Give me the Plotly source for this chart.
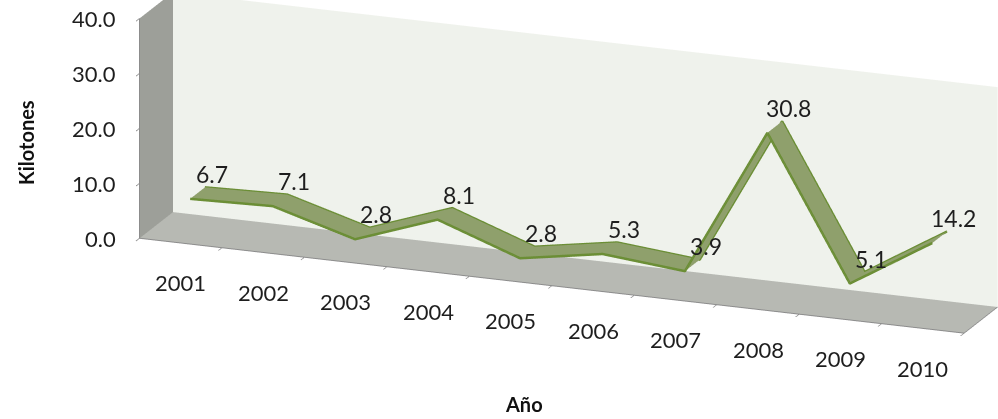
import plotly.graph_objects as go

# Annual values (kilotonnes) per year
years = ["2001", "2002", "2003", "2004", "2005", "2006", "2007", "2008", "2009", "2010"]
kilotones = [6.7, 7.1, 2.8, 8.1, 2.8, 5.3, 3.9, 30.8, 5.1, 14.2]
value_ticks = [0, 10, 20, 30, 40]

FONT = "Lato"
TEXT = "#1e1e1e"
LINE_GREEN = "#6b8e35"
RIBBON_FACE = "#8fa06c"
EDGE_GREY = "#8c8c8c"

# categories sit in the middle of unit-wide slots along x
n = len(years)
xpos = [i + 0.5 for i in range(n)]
boundaries = list(range(n + 1))
ribbon_depth = [0.28, 0.72]

fig = go.Figure()

# ribbon top face
fig.add_trace(go.Surface(
    x=xpos,
    y=ribbon_depth,
    z=[kilotones for _ in ribbon_depth],
    colorscale=[[0, RIBBON_FACE], [1, RIBBON_FACE]],
    showscale=False,
    lighting=dict(ambient=1.0, diffuse=0.0, specular=0.0, roughness=1.0, fresnel=0.0),
    hoverinfo="skip",
))

# ribbon edges
for d in ribbon_depth:
    fig.add_trace(go.Scatter3d(
        x=xpos, y=[d] * n, z=kilotones,
        mode="lines",
        line=dict(color=LINE_GREEN, width=5),
        hoverinfo="skip", showlegend=False,
    ))

scene_notes = []
# value labels above each point
for x, v in zip(xpos, kilotones):
    scene_notes.append(dict(
        x=x, y=0.5, z=v, text=f"{v:.1f}", showarrow=False,
        xshift=14, yshift=19,
        font=dict(family=FONT, size=23, color=TEXT),
    ))
# category labels below the floor's front edge
for x, label in zip(xpos, years):
    scene_notes.append(dict(
        x=x, y=0, z=0, text=label, showarrow=False,
        yshift=-40,
        font=dict(family=FONT, size=22, color=TEXT),
    ))
# value-axis labels beside the left wall
for t in value_ticks:
    scene_notes.append(dict(
        x=0, y=0, z=t, text=f"{t:.1f}", showarrow=False,
        xanchor="right", xshift=-22,
        font=dict(family=FONT, size=22, color=TEXT),
    ))

axis_common = dict(
    showgrid=False, zeroline=False, showspikes=False,
    showline=True, linecolor=EDGE_GREY, linewidth=2,
    showticklabels=False,
    title=dict(text=""),
)

# viewing direction (slightly right of front, looking down) and framing offset
view_dir = (0.342, -0.891, 0.300)
view_dist = 1.306
shift = (-0.286, -0.182, -0.213)

fig.update_layout(
    width=998, height=419,
    margin=dict(l=0, r=0, t=0, b=0),
    paper_bgcolor="white",
    showlegend=False,
    scene=dict(
        domain=dict(x=[0, 1], y=[0, 1]),
        xaxis=dict(
            axis_common,
            range=[0, n],
            tickvals=boundaries,
            ticks="outside", ticklen=10, tickcolor=EDGE_GREY, tickwidth=2,
            showbackground=True, backgroundcolor="#9d9f99",
        ),
        yaxis=dict(
            axis_common,
            range=[0, 1],
            ticks="",
            showbackground=True, backgroundcolor="#eff2ec",
        ),
        zaxis=dict(
            axis_common,
            range=[0, 40],
            tickvals=value_ticks,
            ticks="outside", ticklen=10, tickcolor=EDGE_GREY, tickwidth=2,
            showbackground=True, backgroundcolor="#b7b9b3",
        ),
        aspectmode="manual",
        aspectratio=dict(x=4.216, y=0.446, z=1.10),
        camera=dict(
            eye=dict(x=view_dir[0] * view_dist + shift[0],
                     y=view_dir[1] * view_dist + shift[1],
                     z=view_dir[2] * view_dist + shift[2]),
            up=dict(x=0, y=0, z=1),
            center=dict(x=shift[0], y=shift[1], z=shift[2]),
            projection=dict(type="orthographic"),
        ),
        annotations=scene_notes,
    ),
    annotations=[
        dict(text="<b>Kilotones</b>", x=0.026, y=0.661, xref="paper", yref="paper",
             xanchor="center", yanchor="middle",
             showarrow=False, textangle=-90, font=dict(family=FONT, size=20, color="#111111")),
        dict(text="<b>Año</b>", x=0.525, y=0.036, xref="paper", yref="paper",
             xanchor="center", yanchor="middle",
             showarrow=False, font=dict(family=FONT, size=20, color="#111111")),
    ],
)

fig.write_html("out.html")
